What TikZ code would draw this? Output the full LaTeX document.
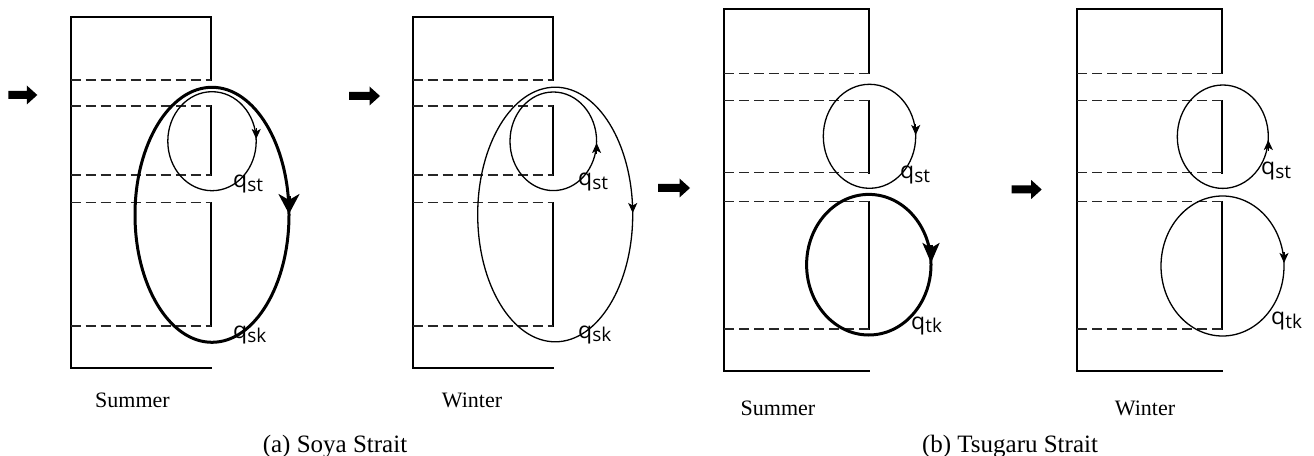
\documentclass[tikz,border=0pt]{standalone}
\usepackage{fontspec}
\setmainfont{Liberation Serif}
\newfontfamily\qfont{Open Sans}
\usetikzlibrary{arrows.meta}
\tikzset{
  wall/.style={line width=1.8bp, line cap=rect},
  rwall/.style={line width=2.3bp, line cap=rect},
  dashline/.style={line width=1.5bp, black!85, dash pattern=on 10bp off 5bp},
  thinloop/.style={line width=1.3bp},
  thickloop/.style={line width=3bp},
  smalltip/.style={line width=1.3bp, -{Stealth[length=10bp,width=9bp,inset=2.5bp]}},
  bigtip/.style={line width=3bp, -{Stealth[length=20bp,width=21bp,inset=6bp]}},
  bigtipb/.style={line width=3bp, -{Stealth[length=20bp,width=17bp,inset=5bp]}},
  season/.style={inner sep=0pt, anchor=base, font=\fontsize{22bp}{24bp}\selectfont},
  caption/.style={inner sep=0pt, anchor=base, font=\fontsize{25bp}{27bp}\selectfont},
  qlabel/.style={inner sep=0pt, anchor=base west, font=\qfont\fontsize{23bp}{24bp}\selectfont}
}
\newcommand\channel[9]{%
  \draw[wall] (#2,#3) -- (#1,#3) -- (#1,#4) -- (#2,#4);
  \draw[rwall] (#2,#3) -- (#2,#5);
  \draw[rwall] (#2,#6) -- (#2,#7);
  \draw[rwall] (#2,#8) -- (#2,#9);
  \foreach \yy in {#5,#6,#7,#8,#9} \draw[dashline] (#1,\yy) -- (#2,\yy);
}
\newcommand\flowarrow[3]{%
  \fill (#1,#3-4) -- (#2-10.5,#3-4) -- (#2-10.5,#3-9.5) -- (#2,#3) -- (#2-10.5,#3+9.5) -- (#2-10.5,#3+4) -- (#1,#3+4) -- cycle;
}
\newcommand\qlab[2]{q\raisebox{-3.5bp}{\fontsize{19bp}{19bp}\selectfont #2}}
\begin{document}
\begin{tikzpicture}[x=1bp,y=-1bp]
\useasboundingbox (0,0) rectangle (1314,456);

% ---------- (a) Soya Strait, Summer ----------
\channel{70.7}{211}{17.3}{367.7}{80}{106}{175}{202.7}{326}
\flowarrow{8.3}{37.3}{95}
\coordinate (a1big) at (212,214.8);
\coordinate (a1small) at (212,141.2);
\draw[thickloop] (a1big) ellipse [x radius=77bp, y radius=127.5bp];
\draw[thinloop] (a1small) ellipse [x radius=44.2bp, y radius=49.5bp];
\draw[bigtip] (289,196) -- (289,214);
\draw[smalltip] (256.2,128) -- (256.2,139);
\node[qlabel] (a1st) at (233,188) {\qlab{q}{st}};
\node[qlabel] (a1sk) at (233,338.5) {\qlab{q}{sk}};
\node[season] (a1s) at (132.5,407) {Summer};

% ---------- (a) Soya Strait, Winter ----------
\channel{412.7}{553.3}{17.3}{367.7}{80}{106}{175}{202.7}{326}
\flowarrow{349}{380}{96}
\coordinate (a2big) at (555.2,214.5);
\coordinate (a2small) at (553.3,141.3);
\draw[thinloop] (a2big) ellipse [x radius=77.5bp, y radius=127.3bp];
\draw[thinloop] (a2small) ellipse [x radius=43.3bp, y radius=49.3bp];
\draw[smalltip] (632.7,202) -- (632.7,213);
\draw[smalltip] (596.6,154) -- (596.6,143);
\node[qlabel] (a2st) at (578,186) {\qlab{q}{st}};
\node[qlabel] (a2sk) at (578,338) {\qlab{q}{sk}};
\node[season] (a2w) at (472,407) {Winter};

\node[caption] (capa) at (335,452) {(a) Soya Strait};

% ---------- (b) Tsugaru Strait, Summer ----------
\channel{724}{869.3}{9}{371}{73.3}{100.7}{172.7}{201.7}{329}
\flowarrow{658}{690}{188}
\coordinate (b1small) at (869.5,136.3);
\coordinate (b1big) at (868.8,264.7);
\draw[thinloop] (b1small) ellipse [x radius=46.2bp, y radius=52bp];
\draw[thickloop] (b1big) ellipse [x radius=62.2bp, y radius=70.3bp];
\draw[smalltip] (915.7,124) -- (915.7,135);
\draw[bigtipb] (931,245) -- (931,263);
\node[qlabel] (b1st) at (900,179) {\qlab{q}{st}};
\node[qlabel] (b1tk) at (911,329) {\qlab{q}{tk}};
\node[season] (b1s) at (778,415) {Summer};

% ---------- (b) Tsugaru Strait, Winter ----------
\channel{1077.3}{1222.3}{9}{371}{73.3}{100.7}{172.7}{201.7}{329}
\flowarrow{1011.7}{1041.7}{189.5}
\coordinate (b2small) at (1222.8,136.7);
\coordinate (b2big) at (1222.5,266);
\draw[thinloop] (b2small) ellipse [x radius=45.5bp, y radius=51.7bp];
\draw[thinloop] (b2big) ellipse [x radius=61.5bp, y radius=70bp];
\draw[smalltip] (1268.3,151) -- (1268.3,140);
\draw[smalltip] (1284,252) -- (1284,263);
\node[qlabel] (b2st) at (1261,175) {\qlab{q}{st}};
\node[qlabel] (b2tk) at (1271,325) {\qlab{q}{tk}};
\node[season] (b2w) at (1145,415) {Winter};

\node[caption] (capb) at (1010,452) {(b) Tsugaru Strait};
\end{tikzpicture}
\end{document}
